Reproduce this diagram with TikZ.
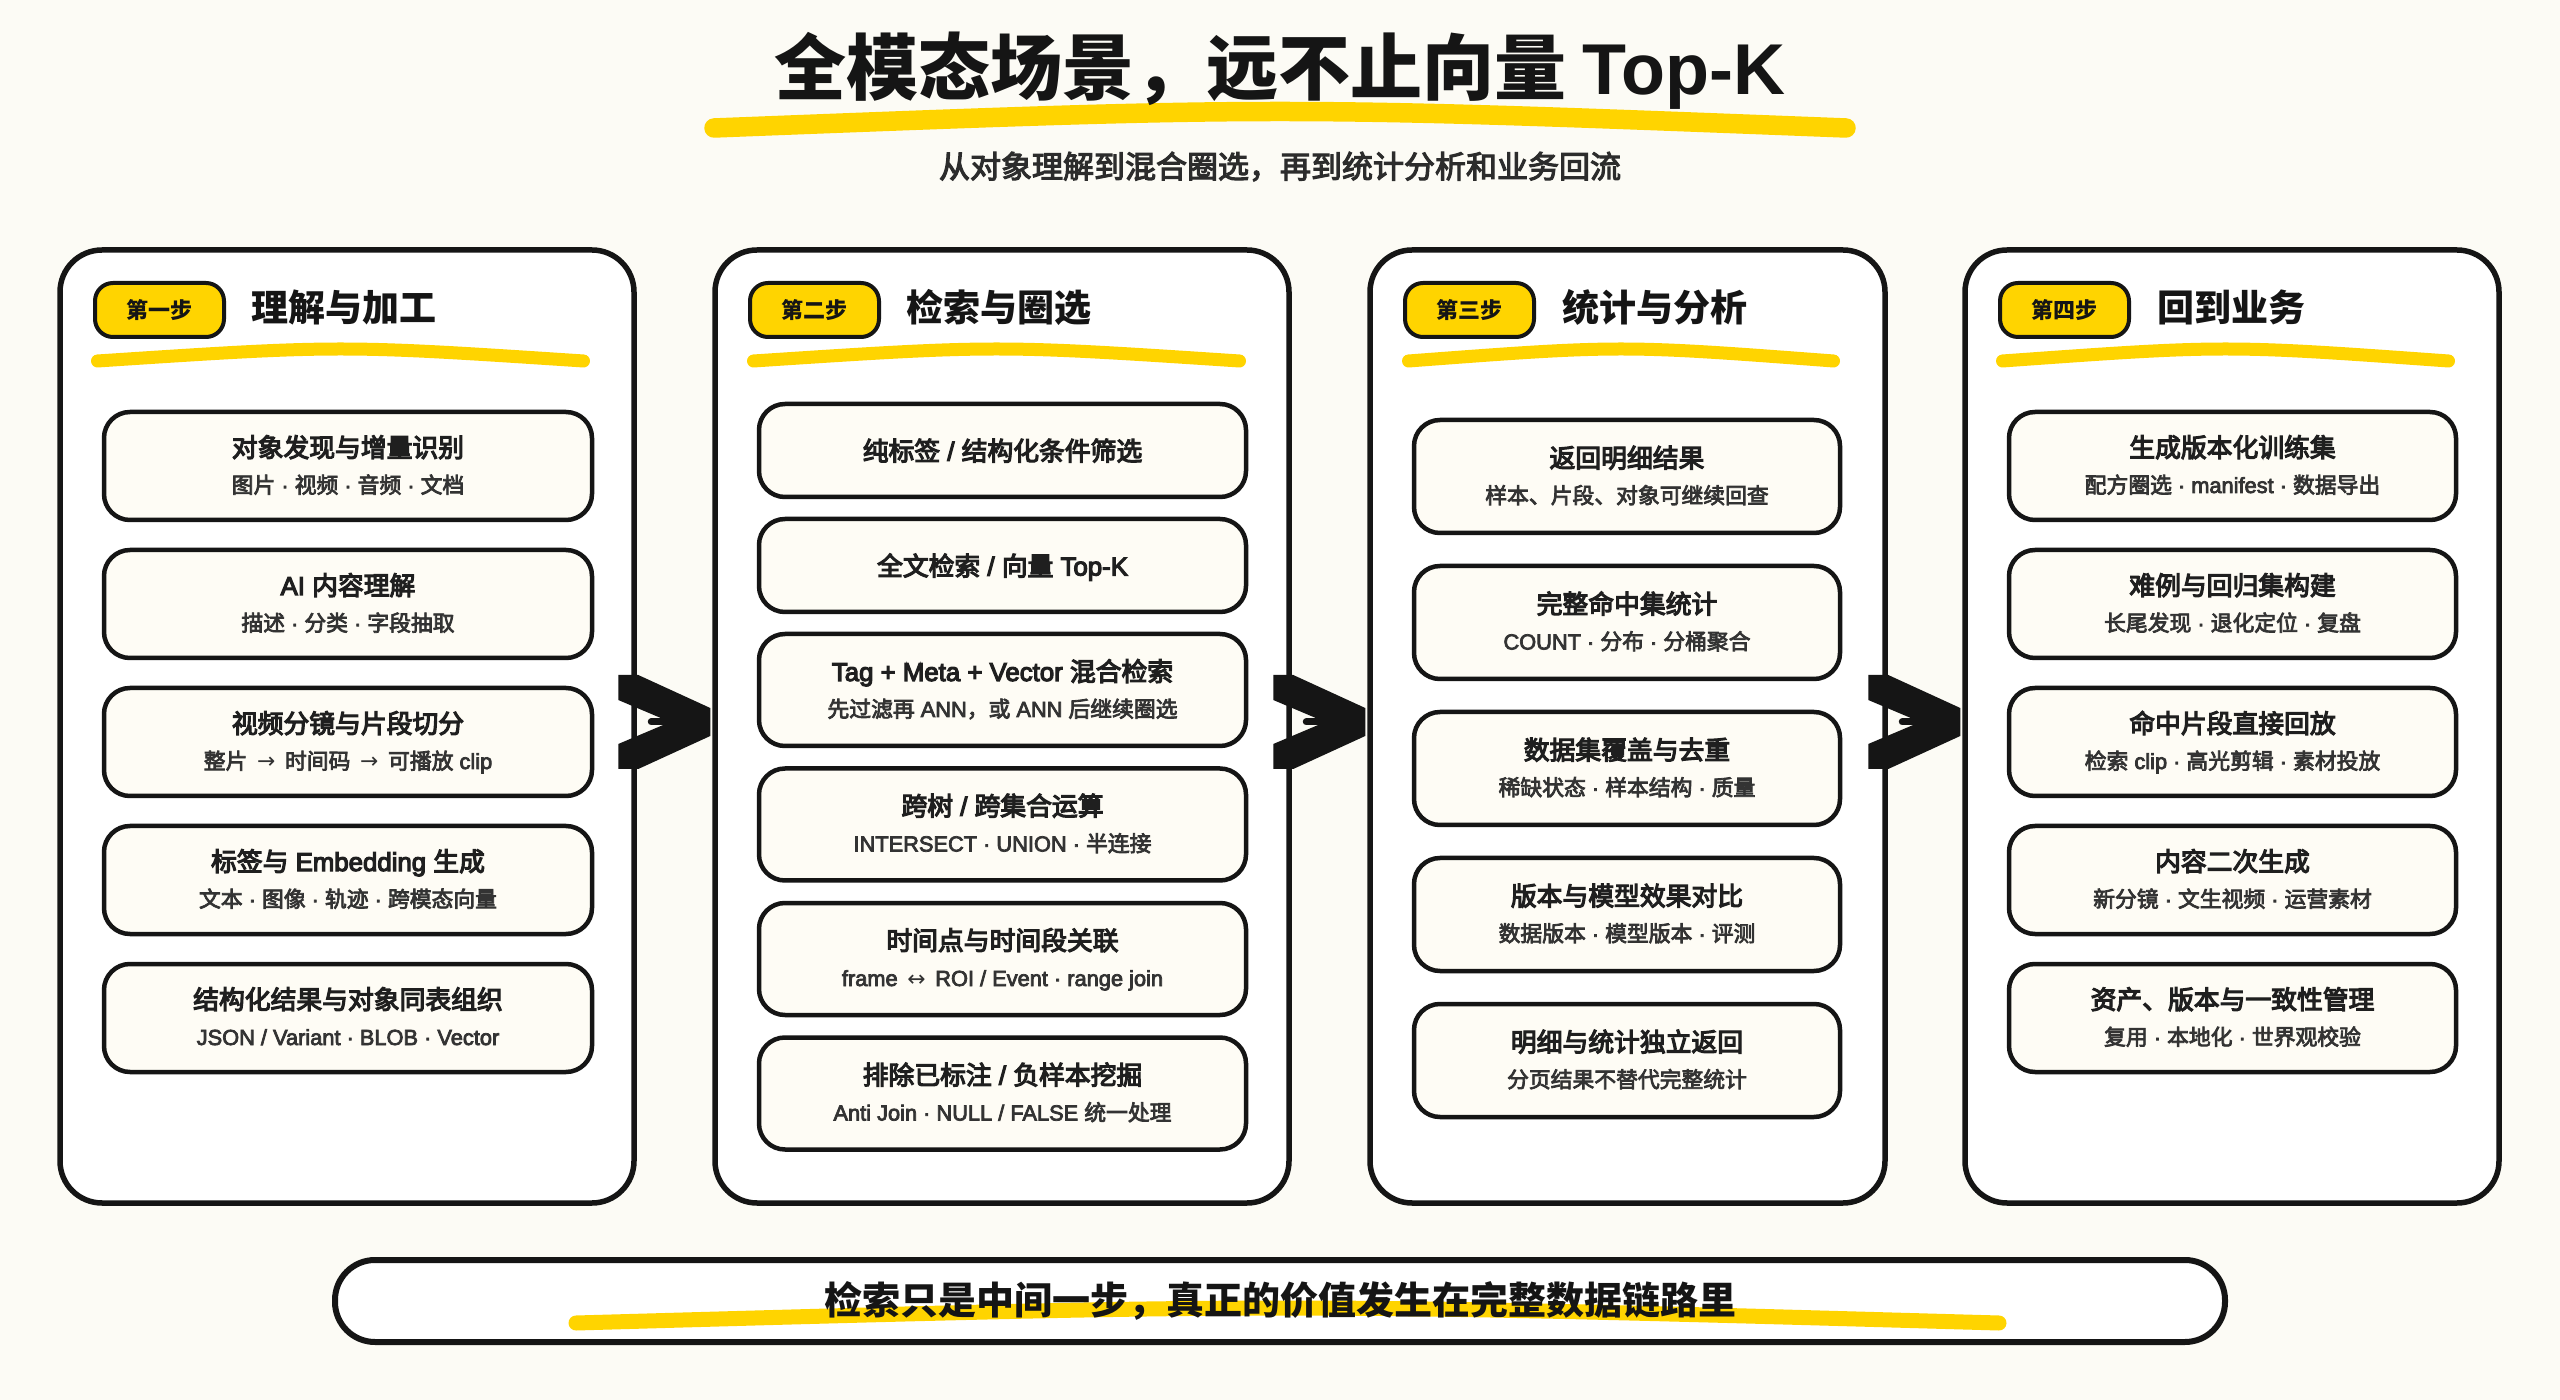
\documentclass[tikz,border=0pt]{standalone}
\usepackage{fontspec}
\setmainfont{Noto Sans CJK SC}
\newfontfamily\cjkM{Noto Sans CJK SC}[FakeBold=4.5]
\newfontfamily\cjkS{Noto Sans CJK SC}[FakeBold=3.5]
\newfontfamily\latR{Liberation Sans}
\newfontfamily\latM{Liberation Sans}[FakeBold=4.5]
\newfontfamily\latS{Liberation Sans}[FakeBold=3.5]
\newfontfamily\arrowfont{DejaVu Sans}
\def\curlat{\latR}
\newcommand\lat[1]{{\curlat #1}}
\newcommand\dt{\lat{\ ·\ }}
\newcommand\arr[1]{\lat{\ \,}{\arrowfont #1}\lat{\,\ }}
\definecolor{bgc}{HTML}{FCFBF5}
\definecolor{ink}{HTML}{151515}
\definecolor{ylw}{HTML}{FFD400}
\definecolor{cardc}{HTML}{FEFCF5}
\definecolor{ttlc}{HTML}{1F1F1F}
\definecolor{subc}{HTML}{333333}
\tikzset{
  panel/.style={draw=ink, line width=2.75pt, fill=white, rounded corners=21pt, inner sep=0pt},
  badge/.style={draw=ink, line width=2pt, fill=ylw, rounded corners=9pt, inner sep=0pt,
    minimum width=64.5pt, minimum height=27pt, text=ink, font=\bfseries\fontsize{11pt}{13pt}\selectfont},
  heading/.style={anchor=base west, inner sep=0pt, text=ink, font=\bfseries\fontsize{18.5pt}{22pt}\selectfont},
  hl/.style={draw=ylw, line cap=round},
  cardbox/.style={draw=ink, line width=2.25pt, fill=cardc, rounded corners=13pt, inner sep=0pt},
  ctitle/.style={anchor=base, inner sep=0pt, text=ttlc, font=\cjkM\fontsize{12.9pt}{15pt}\selectfont\def\curlat{\latM}},
  csub/.style={anchor=base, inner sep=0pt, text=subc, font=\cjkS\fontsize{10.9pt}{13pt}\selectfont\def\curlat{\latS}},
  shaft/.style={draw=ink, line width=3.5pt, line cap=round},
  banner/.style={draw=ink, line width=3pt, fill=white, rounded corners=20pt, inner sep=0pt},
}
% card: name, cx, cy, width(pt), height(pt), title, subtitle
\newcommand\card[7]{%
  \node[cardbox, minimum width=#4pt, minimum height=#5pt] (#1) at (#2,#3) {};
  \node[ctitle] (#1t) at (#2,{#3-9}) {#6};
  \node[csub] (#1s) at (#2,{#3+27}) {#7};
}
\newcommand\scard[6]{%
  \node[cardbox, minimum width=#4pt, minimum height=#5pt] (#1) at (#2,#3) {};
  \node[ctitle] (#1t) at (#2,{#3+10}) {#6};
}
\newcommand\arrowbetween[2]{%
  \draw[shaft] ([xshift=7.25pt,yshift=2.25pt]#1.east) -- ([xshift=-20pt,yshift=2.25pt]#2.west);
  \begin{scope}[shift={([xshift=-1pt,yshift=2.25pt]#2.west)}]
    \fill[ink] (-92,-47) -- (-72,-47) -- (0,-14) -- (0,14) -- (-72,47) -- (-92,47)
      -- (-92,22) -- (-40,0) -- (-92,-22) -- cycle;
  \end{scope}
}
\begin{document}
\begin{tikzpicture}[x=0.5pt,y=-0.5pt]
\fill[bgc] (0,0) rectangle (2560,1400);
\useasboundingbox (0,0) rectangle (2560,1400);

% title
\draw[hl, line width=9.75pt] (714,128) .. controls (1280,106) .. (1846,128);
\node[anchor=base, inner sep=0pt, text=ink, font=\bfseries\fontsize{36pt}{40pt}\selectfont\def\curlat{\latR\bfseries}] (title) at (1280,95) {全模态场景，远不止向量 \lat{Top-K}};
\node[anchor=base, inner sep=0pt, text=ink!90, font=\cjkS\fontsize{15.5pt}{18pt}\selectfont] (subtitle) at (1280,178) {从对象理解到混合圈选，再到统计分析和业务回流};

% panels
\node[panel, minimum width=287pt, minimum height=476.5pt] (p1) at (347,726.5) {};
\node[panel, minimum width=287pt, minimum height=476.5pt] (p2) at (1002,726.5) {};
\node[panel, minimum width=257.5pt, minimum height=476.5pt] (p3) at (1627.5,726.5) {};
\node[panel, minimum width=267pt, minimum height=476.5pt] (p4) at (2232,726.5) {};

% headers
\node[badge] (b1) at (159.5,310) {第一步};
\node[heading] (h1) at (251,322) {理解与加工};
\draw[hl, line width=6.5pt] (97.5,361) .. controls (340.5,345) .. (583.5,361);

\node[badge] (b2) at (814.5,310) {第二步};
\node[heading] (h2) at (906,322) {检索与圈选};
\draw[hl, line width=6.5pt] (753.5,361) .. controls (996.5,345) .. (1239.5,361);

\node[badge] (b3) at (1469.5,310) {第三步};
\node[heading] (h3) at (1562,322) {统计与分析};
\draw[hl, line width=6.5pt] (1408.5,361) .. controls (1621,345) .. (1833.5,361);

\node[badge] (b4) at (2064.5,310) {第四步};
\node[heading] (h4) at (2157,322) {回到业务};
\draw[hl, line width=6.5pt] (2002.5,361) .. controls (2225.5,345) .. (2448.5,361);

% panel 1 cards
\card{c11}{348}{466}{244}{54}{对象发现与增量识别}{图片\dt 视频\dt 音频\dt 文档}
\card{c12}{348}{604}{244}{54}{\lat{AI }内容理解}{描述\dt 分类\dt 字段抽取}
\card{c13}{348}{742}{244}{54}{视频分镜与片段切分}{整片\arr{→}时间码\arr{→}可播放\lat{ clip}}
\card{c14}{348}{880}{244}{54}{标签与\lat{ Embedding }生成}{文本\dt 图像\dt 轨迹\dt 跨模态向量}
\card{c15}{348}{1018}{244}{54}{结构化结果与对象同表组织}{\lat{JSON / Variant · BLOB · Vector}}

% panel 2 cards
\scard{c21}{1002.5}{450.5}{243.5}{46.5}{纯标签\lat{ / }结构化条件筛选}
\scard{c22}{1002.5}{565.5}{243.5}{46.5}{全文检索\lat{ / }向量\lat{ Top-K}}
\card{c23}{1002.5}{690}{243.5}{56}{\lat{Tag + Meta + Vector }混合检索}{先过滤再\lat{ ANN}，或\lat{ ANN }后继续圈选}
\card{c24}{1002.5}{824.5}{243.5}{56}{跨树\lat{ / }跨集合运算}{\lat{INTERSECT · UNION · }半连接}
\card{c25}{1002.5}{959}{243.5}{56}{时间点与时间段关联}{\lat{frame}\arr{↔}\lat{ROI / Event · range join}}
\card{c26}{1002.5}{1093.5}{243.5}{56}{排除已标注\lat{ / }负样本挖掘}{\lat{Anti Join · NULL / FALSE }统一处理}

% panel 3 cards
\card{c31}{1627}{476.5}{213}{56.5}{返回明细结果}{样本、片段、对象可继续回查}
\card{c32}{1627}{622.5}{213}{56.5}{完整命中集统计}{\lat{COUNT · }分布\dt 分桶聚合}
\card{c33}{1627}{768.5}{213}{56.5}{数据集覆盖与去重}{稀缺状态\dt 样本结构\dt 质量}
\card{c34}{1627}{914.5}{213}{56.5}{版本与模型效果对比}{数据版本\dt 模型版本\dt 评测}
\card{c35}{1627}{1060.5}{213}{56.5}{明细与统计独立返回}{分页结果不替代完整统计}

% panel 4 cards
\card{c41}{2232.5}{466}{223.5}{54}{生成版本化训练集}{配方圈选\lat{ · manifest · }数据导出}
\card{c42}{2232.5}{604}{223.5}{54}{难例与回归集构建}{长尾发现\dt 退化定位\dt 复盘}
\card{c43}{2232.5}{742}{223.5}{54}{命中片段直接回放}{检索\lat{ clip · }高光剪辑\dt 素材投放}
\card{c44}{2232.5}{880}{223.5}{54}{内容二次生成}{新分镜\dt 文生视频\dt 运营素材}
\card{c45}{2232.5}{1018}{223.5}{54}{资产、版本与一致性管理}{复用\dt 本地化\dt 世界观校验}

% arrows
\arrowbetween{p1}{p2}
\arrowbetween{p2}{p3}
\arrowbetween{p3}{p4}

% banner
\node[banner, minimum width=945pt, minimum height=41pt] (banner) at (1280,1301) {};
\draw[hl, line width=7.5pt] (576,1323) .. controls (1287,1303) .. (1999,1323);
\node[anchor=base, inner sep=0pt, text=ink, font=\bfseries\fontsize{19pt}{22pt}\selectfont] (bannertext) at (1280,1314) {检索只是中间一步，真正的价值发生在完整数据链路里};
\end{tikzpicture}
\end{document}
